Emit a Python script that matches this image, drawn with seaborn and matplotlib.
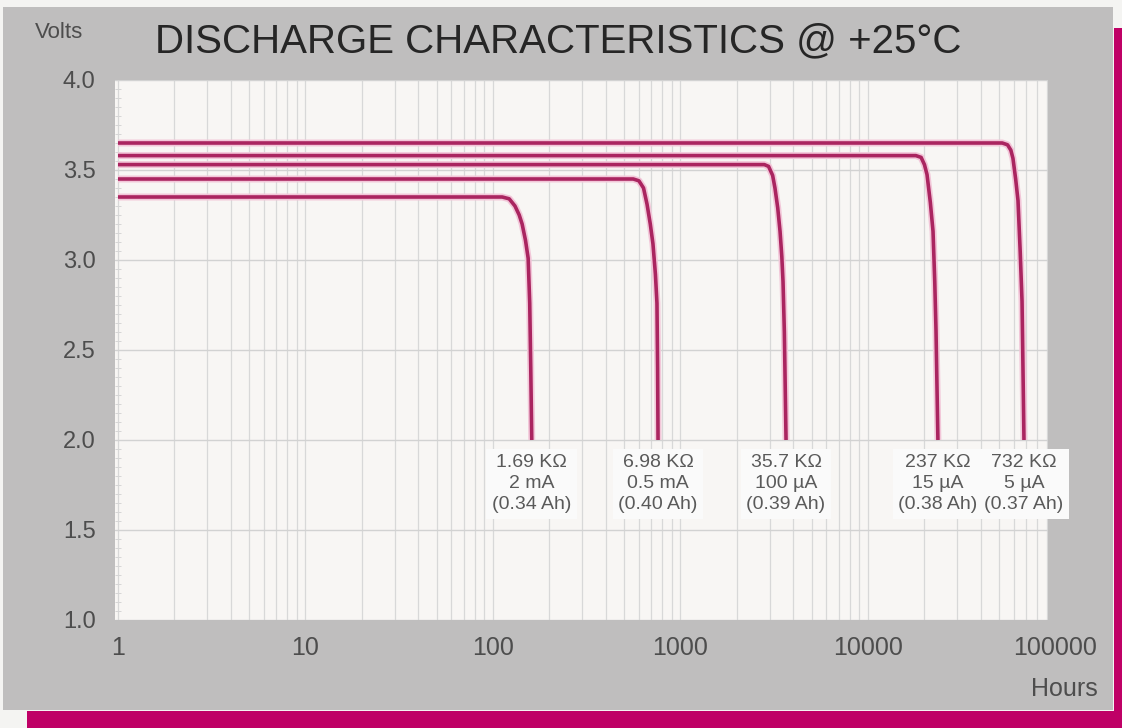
import numpy as np
import pandas as pd
import matplotlib
matplotlib.use("Agg")
import matplotlib.pyplot as plt
from matplotlib.patches import Rectangle
from matplotlib.ticker import MultipleLocator, LogLocator, NullFormatter
import seaborn as sns

# ---------------- data ----------------
loads = ["1.69 KΩ", "6.98 KΩ", "35.7 KΩ", "237 KΩ", "732 KΩ"]
currents = ["2 mA", "0.5 mA", "100 µA", "15 µA", "5 µA"]
capacities = ["(0.34 Ah)", "(0.40 Ah)", "(0.39 Ah)", "(0.38 Ah)", "(0.37 Ah)"]

hours_169k = [1, 112, 122, 131, 138, 143, 149, 154, 157, 159, 161]
volts_169k = [3.35, 3.35, 3.34, 3.30, 3.25, 3.20, 3.11, 3.01, 2.76, 2.40, 2.00]

hours_698k = [1, 560, 600, 635, 663, 690, 713, 735, 749, 755, 759]
volts_698k = [3.45, 3.45, 3.44, 3.40, 3.31, 3.20, 3.09, 2.92, 2.76, 2.40, 2.00]

hours_357k = [1, 2800, 2950, 3100, 3190, 3300, 3395, 3470, 3522, 3580, 3655]
volts_357k = [3.53, 3.53, 3.52, 3.47, 3.40, 3.29, 3.16, 3.02, 2.88, 2.60, 2.00]

hours_237k = [1, 18000, 19200, 20000, 20640, 21500, 22220, 22700, 23050, 23600]
volts_237k = [3.58, 3.58, 3.57, 3.53, 3.475, 3.32, 3.16, 2.88, 2.61, 2.00]

hours_732k = [1, 52000, 55500, 57800, 59300, 61300, 63100, 64800, 66300, 67900]
volts_732k = [3.65, 3.65, 3.64, 3.61, 3.565, 3.45, 3.33, 3.05, 2.77, 2.00]

x_tick_values = [1, 10, 100, 1000, 10000, 100000]
x_tick_labels = ["1", "10", "100", "1000", "10000", "100000"]
y_tick_values = [1.0, 1.5, 2.0, 2.5, 3.0, 3.5, 4.0]

title = "DISCHARGE CHARACTERISTICS @ +25°C"

series_hours = [hours_169k, hours_698k, hours_357k, hours_237k, hours_732k]
series_volts = [volts_169k, volts_698k, volts_357k, volts_237k, volts_732k]

rows = []
for name, hs, vs in zip(loads, series_hours, series_volts):
    for h, v in zip(hs, vs):
        rows.append({"load": name, "hours": h, "volts": v})
df = pd.DataFrame(rows)

# ---------------- style ----------------
sns.set_style("white")
plt.rcParams["font.family"] = ["Liberation Sans", "DejaVu Sans"]

W, H = 1122, 728
fig = plt.figure(figsize=(W / 100, H / 100), dpi=100)
fig.patch.set_facecolor("#f4f4f2")

# grey panel and magenta frame
fig.add_artist(Rectangle((3 / W, 1 - 710 / H), 1110 / W, 703 / H,
                         transform=fig.transFigure, facecolor="#bfbebe",
                         edgecolor="none", zorder=0))
fig.add_artist(Rectangle((27 / W, 0), 1 - 27 / W, 17 / H,
                         transform=fig.transFigure, facecolor="#bf0066",
                         edgecolor="none", zorder=0))
fig.add_artist(Rectangle((1114 / W, 0), 8 / W, 1 - 28 / H,
                         transform=fig.transFigure, facecolor="#bf0066",
                         edgecolor="none", zorder=0))

ax = fig.add_axes([115 / W, (H - 620) / H, 933 / W, 540 / H])
ax.set_facecolor("#f8f6f4")

pal_halo = {n: "#f2c6d8" for n in loads}
pal_line = {n: "#aa2560" for n in loads}
sns.lineplot(data=df, x="hours", y="volts", hue="load", palette=pal_halo,
             estimator=None, sort=False, legend=False, lw=5.0, ax=ax,
             solid_capstyle="butt", zorder=3)
sns.lineplot(data=df, x="hours", y="volts", hue="load", palette=pal_line,
             estimator=None, sort=False, legend=False, lw=2.6, ax=ax,
             solid_capstyle="butt", zorder=4)

ax.set_xscale("log")
ax.set_xlim(0.964, 91200)
ax.set_ylim(1.0, 3.99)
ax.set_xlabel("")
ax.set_ylabel("")

ax.xaxis.set_major_locator(LogLocator(base=10))
ax.xaxis.set_minor_locator(LogLocator(base=10, subs=np.arange(2, 10)))
ax.xaxis.set_major_formatter(NullFormatter())
ax.xaxis.set_minor_formatter(NullFormatter())
ax.tick_params(axis="x", which="both", length=0)

ax.set_yticks(y_tick_values)
ax.set_yticklabels([f"{v:.1f}" for v in y_tick_values])
ax.yaxis.set_minor_locator(MultipleLocator(0.05))
ax.tick_params(axis="y", which="major", length=0, pad=14, labelsize=17,
               labelcolor="#4d4d4d")
ax.tick_params(axis="y", which="minor", direction="in", length=4,
               width=0.7, color="#d6d6d6", left=True)

ax.grid(axis="x", which="both", color="#d8d8d8", lw=0.9, zorder=1)
ax.grid(axis="y", which="major", color="#d2d2d2", lw=1.0, zorder=1)
for s in ax.spines.values():
    s.set_visible(False)

# x tick labels (last one sits beyond the plotting area)
for v, lab in zip(x_tick_values, x_tick_labels):
    ax.text(v, -0.052, lab, transform=ax.get_xaxis_transform(), ha="center",
            va="center", fontsize=18, color="#4d4d4d", clip_on=False)

# curve annotations
for hs, r, c, q in zip(series_hours, loads, currents, capacities):
    ax.text(hs[-1], 1.92, f"{r}\n{c}\n{q}", ha="center", va="top",
            fontsize=14, color="#5a5a5a", linespacing=1.3, clip_on=False,
            zorder=6, bbox=dict(facecolor="#fafafa", edgecolor="none", pad=4))

fig.text(35 / W, 1 - 33 / H, "Volts", ha="left", va="center", fontsize=16,
         color="#4d4d4d")
fig.text(155 / W, 1 - 41 / H, title, ha="left", va="center", fontsize=29,
         color="#262626")
fig.text(1098 / W, 1 - 689 / H, "Hours", ha="right", va="center",
         fontsize=18, color="#4d4d4d")

fig.savefig("out.png", dpi=100, facecolor=fig.get_facecolor())
